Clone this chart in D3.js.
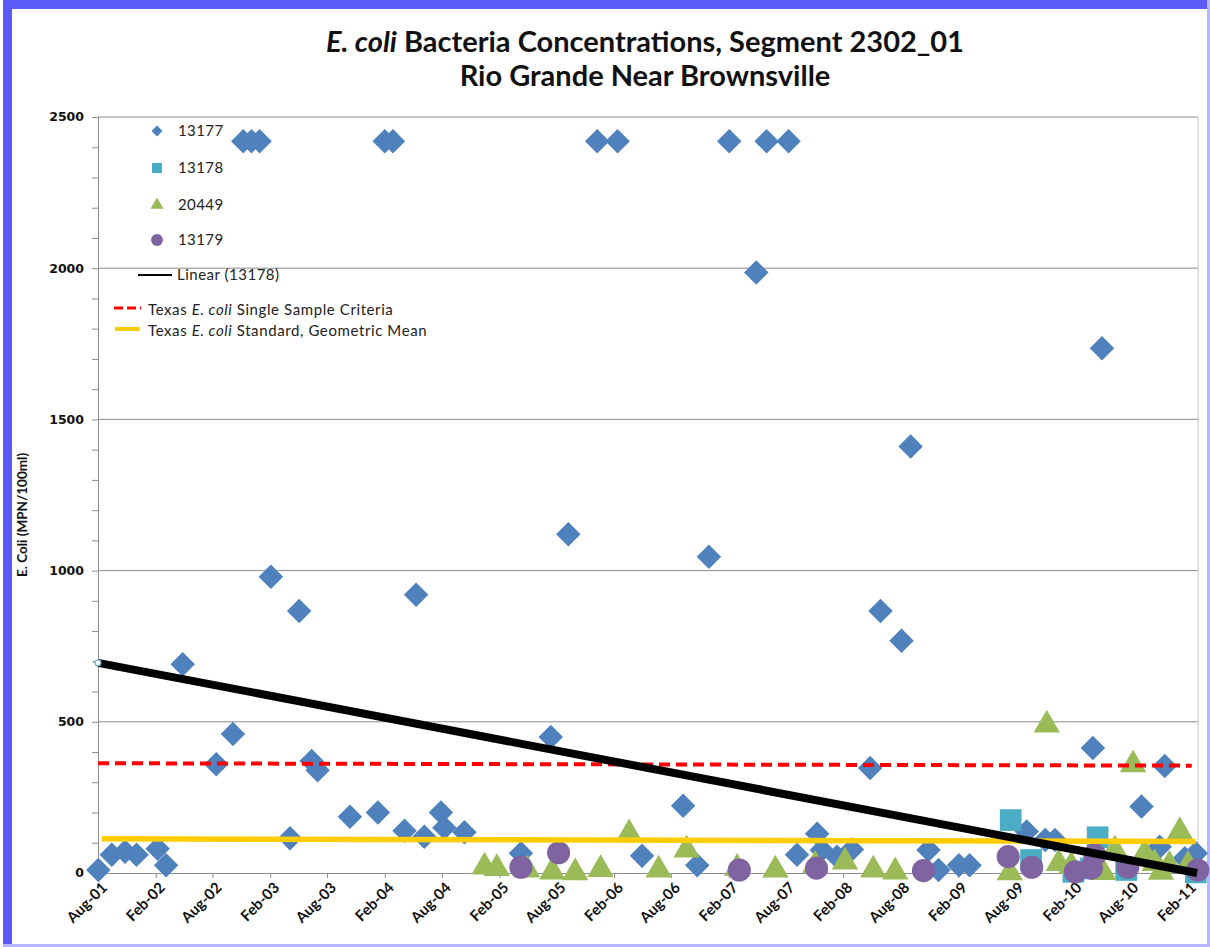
<!DOCTYPE html>
<html lang="en">
<head>
<meta charset="UTF-8" />
<title>E. coli Bacteria Concentrations, Segment 2302_01</title>
<script src="https://d3js.org/d3.v7.min.js"></script>
<style>
  html, body { margin: 0; padding: 0; background: #fff; }
  svg { display: block; }
</style>
</head>
<body>
<div id="chart"></div>
<script>
// station 13177 (blue diamonds)
const s13177 = [
  ["2001-08-02", 10], ["2001-09-14", 60], ["2001-10-26", 70], ["2001-12-02", 60],
  ["2002-02-07", 80], ["2002-03-06", 26], ["2002-04-28", 690], ["2002-08-13", 360],
  ["2002-10-05", 460], ["2002-11-07", 2420], ["2002-12-03", 2420], ["2002-12-29", 2420],
  ["2003-02-03", 980], ["2003-04-05", 115], ["2003-05-04", 866], ["2003-06-13", 370],
  ["2003-07-02", 340], ["2003-10-13", 186], ["2004-01-10", 200], ["2004-02-01", 2420],
  ["2004-02-27", 2420], ["2004-04-04", 140], ["2004-05-11", 920], ["2004-06-06", 120],
  ["2004-07-29", 200], ["2004-08-09", 150], ["2004-10-12", 135], ["2005-04-10", 65],
  ["2005-07-14", 450], ["2005-09-08", 1120], ["2005-12-09", 2420], ["2006-02-12", 2420],
  ["2006-05-01", 57], ["2006-09-09", 222], ["2006-10-24", 26], ["2006-11-30", 1046],
  ["2007-02-03", 2420], ["2007-04-30", 1986], ["2007-06-02", 2420], ["2007-08-11", 2420],
  ["2007-09-07", 60], ["2007-11-10", 130], ["2007-11-25", 76], ["2008-01-12", 54],
  ["2008-02-29", 78], ["2008-04-27", 347], ["2008-05-30", 866], ["2008-08-05", 768],
  ["2008-09-03", 1410], ["2008-10-30", 76], ["2008-12-01", 10], ["2009-02-04", 26],
  ["2009-03-10", 26], ["2009-09-08", 137], ["2009-11-06", 109], ["2009-12-07", 109],
  ["2010-04-07", 413], ["2010-05-06", 1735], ["2010-09-09", 220], ["2010-11-06", 87],
  ["2010-11-22", 354], ["2011-01-25", 49], ["2011-03-01", 65]
];
// station 13178 (teal squares)
const s13178 = [
  ["2009-07-19", 175], ["2009-09-22", 43], ["2010-02-04", 4], ["2010-04-01", 15],
  ["2010-04-22", 118], ["2010-07-22", 10], ["2011-03-01", 2]
];
// station 20449 (green triangles)
const s20449 = [
  ["2004-12-15", 20], ["2005-01-23", 15], ["2005-04-30", 10], ["2005-07-19", 4],
  ["2005-09-30", 1], ["2005-12-20", 12], ["2006-03-21", 130], ["2006-06-23", 10],
  ["2006-09-20", 76], ["2007-02-28", 16], ["2007-06-30", 10], ["2007-11-04", 26],
  ["2008-02-07", 37], ["2008-05-07", 10], ["2008-07-16", 4], ["2009-07-16", 1],
  ["2009-11-11", 490], ["2009-12-19", 32], ["2010-01-28", 23], ["2010-05-10", 2],
  ["2010-06-16", 76], ["2010-08-13", 358], ["2010-09-19", 65], ["2010-10-21", 32],
  ["2010-11-10", 3], ["2010-12-07", 26], ["2011-01-09", 137], ["2011-02-04", 26]
];
// station 13179 (purple circles)
const s13179 = [
  ["2005-04-10", 19], ["2005-08-08", 67], ["2007-03-07", 10], ["2007-11-08", 16],
  ["2008-10-14", 8], ["2009-07-11", 54], ["2009-09-24", 19], ["2010-02-10", 4],
  ["2010-04-02", 16], ["2010-04-13", 60], ["2010-07-27", 19], ["2011-03-07", 10]
];
// reference lines
const trendLine = [["2001-08-01", 695], ["2011-03-05", 0]];
const singleSample = [["2001-08-01", 363], ["2011-02-16", 355]];
const geoMean = [["2001-08-13", 113], ["2011-03-01", 104]];

const yTicks = [0, 500, 1000, 1500, 2000, 2500];
const xStart = "2001-08-01", xEnd = "2011-03-08";

const W = 1210, H = 947;
const margin = { left: 98, right: 10, top: 117, bottom: 74 };
const parse = d3.timeParse("%Y-%m-%d");

const svg = d3.select("#chart").append("svg")
  .attr("width", W).attr("height", H)
  .style("font-family", "Lato, 'Open Sans', sans-serif");

// frame
svg.append("rect").attr("x", 0).attr("y", 0).attr("width", W).attr("height", H).attr("fill", "#fff");
svg.append("rect").attr("x", 3).attr("y", 0).attr("width", 9).attr("height", H).attr("fill", "#5a5af8");
svg.append("rect").attr("x", 3).attr("y", 0).attr("width", W - 3).attr("height", 9).attr("fill", "#5a5af8");
svg.append("line").attr("x1", W - 1.5).attr("x2", W - 1.5).attr("y1", 0).attr("y2", H).attr("stroke", "#b4b4ff").attr("stroke-width", 3);
svg.append("line").attr("x1", 3).attr("x2", W).attr("y1", H - 1.5).attr("y2", H - 1.5).attr("stroke", "#b4b4ff").attr("stroke-width", 3);

const x = d3.scaleTime()
  .domain([parse(xStart), parse(xEnd)])
  .range([margin.left, W - margin.right - 2]);
const y = d3.scaleLinear()
  .domain([0, 2500])
  .range([H - margin.bottom, margin.top]);

// title
const title = svg.append("text")
  .attr("x", 645).attr("y", 52)
  .attr("text-anchor", "middle")
  .attr("font-size", 29).attr("font-weight", 700).attr("fill", "#111");
title.append("tspan").attr("font-style", "italic").text("E. coli");
title.append("tspan").text(" Bacteria Concentrations, Segment 2302_01");
svg.append("text")
  .attr("x", 645).attr("y", 86)
  .attr("text-anchor", "middle")
  .attr("font-size", 29).attr("font-weight", 700).attr("fill", "#111")
  .text("Rio Grande Near Brownsville");

// gridlines
svg.append("g").selectAll("line")
  .data(yTicks.filter(d => d > 0))
  .enter().append("line")
  .attr("x1", x.range()[0]).attr("x2", x.range()[1])
  .attr("y1", d => y(d)).attr("y2", d => y(d))
  .attr("stroke", "#8c8c8c").attr("stroke-width", 1);
svg.append("line")
  .attr("x1", x.range()[1]).attr("x2", x.range()[1])
  .attr("y1", y(2500)).attr("y2", y(0))
  .attr("stroke", "#c8c8c8");

// y axis (minor ticks every 100)
const yAxisG = svg.append("g").attr("transform", `translate(${margin.left},0)`)
  .call(d3.axisLeft(y).tickValues(d3.range(0, 2501, 100)).tickSize(6).tickFormat(""));
yAxisG.select(".domain").attr("stroke", "#8c8c8c");
yAxisG.selectAll(".tick line").attr("stroke", "#8c8c8c");
svg.append("g").selectAll("text")
  .data(yTicks)
  .enter().append("text")
  .attr("x", 84).attr("y", d => y(d))
  .attr("dy", "0.35em")
  .attr("text-anchor", "end")
  .attr("font-family", "'DejaVu Sans', sans-serif")
  .attr("font-weight", "bold").attr("font-size", 12.5).attr("fill", "#111")
  .text(d => d);

svg.append("text")
  .attr("transform", `translate(27,${(y(0) + y(2500)) / 2 + 20}) rotate(-90)`)
  .attr("text-anchor", "middle")
  .attr("font-size", 13.5).attr("font-weight", 700).attr("fill", "#111")
  .text("E. Coli (MPN/100ml)");

// x axis
const xTickVals = d3.timeMonth.range(parse(xStart), parse(xEnd), 6);
const fmt = d3.timeFormat("%b-%y");
const xAxisG = svg.append("g").attr("transform", `translate(0,${y(0)})`)
  .call(d3.axisBottom(x).tickValues(xTickVals).tickSize(5).tickFormat(fmt));
xAxisG.select(".domain").attr("stroke", "#8c8c8c");
xAxisG.selectAll(".tick line").attr("stroke", "#8c8c8c");
xAxisG.selectAll(".tick text")
  .attr("font-family", "Lato, sans-serif")
  .attr("font-weight", 700).attr("font-size", 15).attr("fill", "#111")
  .attr("text-anchor", "end")
  .attr("dx", 0).attr("dy", 0)
  .attr("transform", "translate(4,10) rotate(-45)");

// markers
const colors = { d: "#4f81bd", s: "#4bacc6", t: "#9bbb59", c: "#8064a2" };
function drawSeries(data, type, size, color, rot) {
  svg.append("g").selectAll("path")
    .data(data)
    .enter().append("path")
    .attr("d", d3.symbol().type(type).size(size))
    .attr("transform", d => `translate(${x(parse(d[0]))},${y(d[1])}) rotate(${rot})`)
    .attr("fill", color);
}
drawSeries(s13177, d3.symbolSquare, 300, colors.d, 45);
drawSeries(s13178, d3.symbolSquare, 470, colors.s, 0);
drawSeries(s20449, d3.symbolTriangle, 300, colors.t, 0);
drawSeries(s13179, d3.symbolCircle, 420, colors.c, 0);

// reference lines
const line = d3.line().x(d => x(parse(d[0]))).y(d => y(d[1]));
svg.append("path").datum(singleSample).attr("d", line)
  .attr("fill", "none").attr("stroke", "#ff0000").attr("stroke-width", 4)
  .attr("stroke-dasharray", "11,6");
svg.append("path").datum(geoMean).attr("d", line)
  .attr("fill", "none").attr("stroke", "#ffcc00").attr("stroke-width", 5.5);
svg.append("path").datum(trendLine).attr("d", line)
  .attr("fill", "none").attr("stroke", "#000").attr("stroke-width", 8);
svg.append("circle")
  .attr("cx", x(parse(trendLine[0][0]))).attr("cy", y(trendLine[0][1]))
  .attr("r", 3).attr("fill", "#fff").attr("stroke", "#6fa8c8").attr("stroke-width", 1.2);

// legend
const leg = svg.append("g").attr("font-size", 15).attr("fill", "#222");
const legMarks = [
  { label: "13177", type: d3.symbolSquare, size: 60, rot: 45, color: colors.d, y: 131 },
  { label: "13178", type: d3.symbolSquare, size: 100, rot: 0, color: colors.s, y: 168 },
  { label: "20449", type: d3.symbolTriangle, size: 75, rot: 0, color: colors.t, y: 205 },
  { label: "13179", type: d3.symbolCircle, size: 110, rot: 0, color: colors.c, y: 240 }
];
legMarks.forEach(m => {
  leg.append("path").attr("d", d3.symbol().type(m.type).size(m.size))
    .attr("transform", `translate(157,${m.y}) rotate(${m.rot})`).attr("fill", m.color);
  leg.append("text").attr("x", 178).attr("y", m.y).attr("dy", "0.36em")
    .attr("letter-spacing", 0.4).text(m.label);
});
leg.append("line").attr("x1", 138).attr("x2", 172).attr("y1", 275).attr("y2", 275)
  .attr("stroke", "#000").attr("stroke-width", 2);
leg.append("text").attr("x", 177).attr("y", 275).attr("dy", "0.36em")
  .attr("font-size", 15).attr("letter-spacing", 0.5).text("Linear (13178)");
leg.append("line").attr("x1", 114).attr("x2", 141).attr("y1", 308).attr("y2", 308)
  .attr("stroke", "#ff0000").attr("stroke-width", 3).attr("stroke-dasharray", "9,4");
leg.append("line").attr("x1", 115).attr("x2", 140).attr("y1", 329).attr("y2", 329)
  .attr("stroke", "#ffcc00").attr("stroke-width", 4);
[["Single Sample Criteria", 310], ["Standard, Geometric Mean", 331]].forEach(([rest, ty]) => {
  const t = leg.append("text").attr("x", 148).attr("y", ty).attr("dy", "0.36em")
    .attr("font-size", 15).attr("letter-spacing", 0.6);
  t.append("tspan").text("Texas ");
  t.append("tspan").attr("font-style", "italic").text("E. coli");
  t.append("tspan").text(" " + rest);
});
</script>
</body>
</html>
